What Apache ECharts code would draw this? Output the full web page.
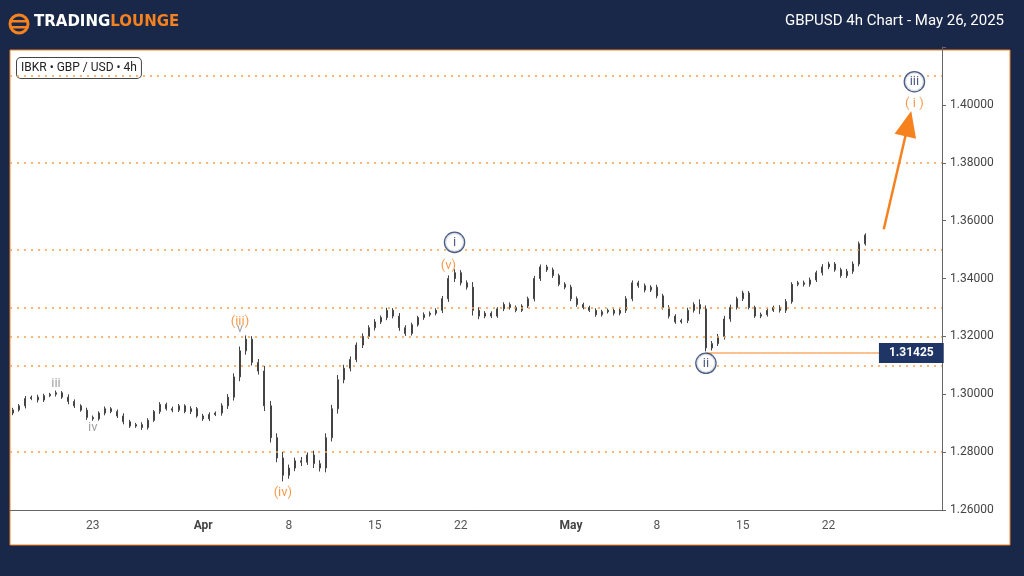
<!DOCTYPE html>
<html><head><meta charset="utf-8">
<script src="https://cdn.jsdelivr.net/npm/echarts@6/dist/echarts.min.js"></script>
<style>html,body{margin:0;padding:0;background:#192749;}#c{width:1024px;height:576px;}</style>
</head><body><div id="c"></div>
<script>
const closes = [1.2946,1.2960,1.2985,1.2990,1.2980,1.2995,1.3000,
1.3005,1.2990,1.2975,1.2960,
1.2945,1.2920,1.2915,
1.2935,1.2950,1.2940,1.2925,1.2905,1.2890,1.2895,
1.2885,1.2910,1.2940,1.2965,1.2950,
1.2945,1.2960,1.2940,1.2950,1.2925,1.2915,
1.2930,1.2935,1.2960,1.2990,
1.3060,1.3150,1.3190,
1.3110,1.3080,
1.2960,1.2850,1.2780,1.2720,
1.2745,1.2770,1.2765,1.2790,1.2760,1.2745,
1.2850,1.2950,1.3050,1.3090,1.3120,
1.3170,1.3200,1.3230,1.3250,1.3265,
1.3290,1.3270,1.3230,1.3210,1.3240,
1.3265,1.3275,1.3280,1.3290,1.3330,
1.3400,1.3420,1.3385,1.3370,
1.3290,1.3270,1.3280,1.3270,
1.3295,1.3310,1.3300,1.3290,1.3305,1.3330,
1.3400,1.3440,1.3430,1.3410,
1.3380,1.3370,1.3330,1.3310,
1.3300,1.3290,1.3275,1.3285,1.3290,
1.3280,1.3290,1.3330,1.3385,
1.3375,1.3360,1.3370,1.3340,
1.3300,1.3270,1.3250,1.3255,
1.3290,1.3310,1.3295,
1.3160,1.3175,1.3200,
1.3260,1.3300,1.3330,1.3350,
1.3300,1.3270,1.3275,1.3290,1.3300,
1.3290,1.3320,1.3380,1.3385,
1.3380,1.3395,1.3420,1.3440,
1.3450,1.3430,1.3410,1.3425,
1.3450,1.3520,1.3550,1.3580];
const wicks = [12,10,15,9,14,11,8,13,10,16,12,9,14,11,10,13,9,12,15,11,10,14,12,9,13,10,12,11,9,14,10,12,13,9,15,18,
20,25,22,18,20,30,28,25,35,20,18,22,15,25,20,25,22,28,20,18,15,17,14,16,12,15,13,18,14,12,10,13,11,12,16,
18,20,15,14,30,18,12,11,10,13,12,11,10,12,15,14,12,13,11,12,14,13,11,10,12,11,10,13,12,15,14,12,13,11,
14,12,13,11,10,15,13,30,20,15,14,18,16,12,13,11,10,12,11,10,13,15,12,11,13,14,12,16,13,11,12,14,15,13,10];
const gridLevels = [1.41,1.38,1.35,1.33,1.32,1.31,1.28];
const levelPrice = 1.31425;
const levelStart = 113;
const dateLabels = ['3-23','4-1','4-8','4-15','4-22','5-1','5-8','5-15','5-22'];
const waveLabels = [
 {i:7, p:1.3035, t:'iii', c:'#8a8a8a', circ:false},
 {i:13, p:1.2885, t:'iv', c:'#8a8a8a', circ:false},
 {i:37, p:1.3228, t:'v', c:'#8a8a8a', circ:false},
 {i:37, p:1.3252, t:'(iii)', c:'#f5811f', circ:false},
 {i:44, p:1.2660, t:'(iv)', c:'#f5811f', circ:false},
 {i:71, p:1.3445, t:'(v)', c:'#f5811f', circ:false},
 {i:72, p:1.3525, t:'i', c:'#1e3566', circ:true},
 {i:113, p:1.3107, t:'ii', c:'#1e3566', circ:true},
 {i:147, p:1.4080, t:'iii', c:'#1e3566', circ:true},
 {i:147, p:1.4005, t:'( i )', c:'#f5811f', circ:false}
];
const N = 152;
const cats=[], mon=['Jan','Feb','Mar','Apr','May'];
const start = Date.UTC(2025,2,16,12);
for(let i=0;i<N;i++){const d=new Date(start+i*12*3600e3);cats.push((d.getUTCMonth()+1)+'-'+d.getUTCDate()+(d.getUTCHours()===0?'':'h'));}
const ohlc=[];
for(let i=0;i<closes.length;i++){
  const o = i===0?1.2935:closes[i-1], c=closes[i], w=wicks[i]/10000*0.6;
  ohlc.push([o,c,Math.min(o,c)-w,Math.max(o,c)+w]);
}
const levelLine = cats.map((c,i)=> i>=levelStart ? levelPrice : null);
const chart=echarts.init(document.getElementById('c'));
chart.setOption({
 backgroundColor:'#192749',
 animation:false,
 grid:{left:10,right:82,top:47,bottom:66},
 graphic:[
  {type:'rect',z:-10,shape:{x:10,y:50,width:1000,height:495},style:{fill:'#fff',stroke:'#f5811f',lineWidth:1}},
  {type:'circle',shape:{cx:19,cy:24,r:9},style:{fill:'none',stroke:'#f5811f',lineWidth:3}},
  {type:'rect',shape:{x:11,y:20,width:16,height:2.5},style:{fill:'#f5811f'}},
  {type:'rect',shape:{x:11,y:26,width:16,height:2.5},style:{fill:'#f5811f'}},
  {type:'text',left:34,top:15,style:{text:'{a|TRADING}{b|LOUNGE}',rich:{a:{fill:'#fff',fontSize:15,fontWeight:'bold',fontFamily:'DejaVu Sans'},b:{fill:'#f5811f',fontSize:15,fontWeight:'bold',fontFamily:'DejaVu Sans'}}}},
  {type:'text',right:20,top:14,style:{text:'GBPUSD 4h Chart - May 26, 2025',fill:'#fff',fontSize:15,fontFamily:'Roboto'}},
  {type:'text',left:16,top:57,style:{text:'IBKR • GBP / USD • 4h',fill:'#222',fontSize:12,fontFamily:'Roboto',backgroundColor:'#fff',borderColor:'#444',borderWidth:1,borderRadius:4,padding:[4,4]}}
 ],
 xAxis:{type:'category',data:cats,boundaryGap:true,
  axisLine:{lineStyle:{color:'#666'}},axisTick:{show:false},
  axisLabel:{interval:0,hideOverlap:false,color:'#555',fontSize:12,fontFamily:'Roboto',margin:10,
   formatter:function(v){if(dateLabels.indexOf(v)<0)return '';const p=v.split('-');if(p[1]==='1')return '{b|'+mon[+p[0]-1]+'}';return p[1];},
   rich:{b:{fontWeight:'bold',color:'#444',fontSize:12}}},
  splitLine:{show:false}},
 yAxis:{type:'value',position:'right',min:1.26,max:1.42,interval:0.02,
  axisLine:{show:true,lineStyle:{color:'#666'}},axisTick:{show:true,length:4,lineStyle:{color:'#666'}},
  axisLabel:{color:'#444',fontSize:12,fontFamily:'Roboto',margin:8,formatter:v=>v>1.411?'':v.toFixed(5)},
  splitLine:{show:false}},
 series:[
  {type:'candlestick',data:ohlc,barMaxWidth:1.5,
   itemStyle:{color:'#444',color0:'#444',borderColor:'#444',borderColor0:'#444',borderWidth:1},
   markLine:{silent:true,symbol:'none',animation:false,
    lineStyle:{color:'#f5a04a',type:[2,5],width:1.5},label:{show:false},
    data:gridLevels.map(v=>({yAxis:v}))}},
  {type:'line',data:levelLine,showSymbol:false,symbol:'none',color:'#f5811f',lineStyle:{color:'#f5811f',width:1},z:3,
   endLabel:{show:true,formatter:'1.31425',color:'#fff',backgroundColor:'#1e3566',padding:[4,10],fontSize:12,fontWeight:'bold',fontFamily:'Roboto',offset:[-68,0]}},
  {type:'line',data:[],markLine:{silent:true,animation:false,symbol:['none','triangle'],symbolSize:[22,26],
   lineStyle:{color:'#f5811f',width:2.5,type:'solid'},label:{show:false},
   data:[[{coord:[142,1.357]},{coord:[145.5,1.3935]}]]}},
  {type:'scatter',symbolSize:0,z:10,
   data:waveLabels.map(w=>({value:[w.i,w.p],label:{show:true,position:'inside',formatter:w.t,color:w.c,fontSize:13,fontFamily:'Roboto',
     borderColor:w.circ?w.c:'transparent',borderWidth:w.circ?1.3:0,borderRadius:10,padding:w.circ?[3,2]:0,width:w.circ?15:undefined,align:'center',backgroundColor:w.circ?'#fff':'transparent'}}))}
 ]
});
</script></body></html>
